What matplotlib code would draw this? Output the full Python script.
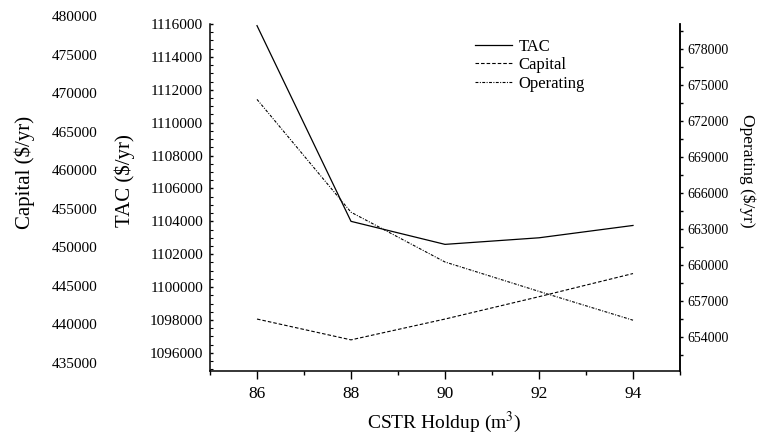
import matplotlib
matplotlib.use("Agg")
import matplotlib.pyplot as plt
from matplotlib.ticker import MultipleLocator, ScalarFormatter, FixedLocator

plt.rcParams['font.family'] = ['Liberation Serif', 'DejaVu Serif']
plt.rcParams['mathtext.fontset'] = 'stix'

# CSTR holdup study: annual costs
holdup = [86, 88, 90, 92, 94]
tac = [1115900, 1104000, 1102600, 1103000, 1103750]
capital = [440700, 438000, 440700, 443600, 446600]
operating = [673800, 664400, 660250, 657800, 655400]

capital_ticks = [435000, 440000, 445000, 450000, 455000, 460000,
                 465000, 470000, 475000, 480000]

W, H = 758, 437
fig = plt.figure(figsize=(W / 100, H / 100), dpi=100)
fig.patch.set_facecolor('white')

def frac(left, top, right, bottom):
    return [left / W, 1 - bottom / H, (right - left) / W, (bottom - top) / H]

# main (TAC) axes
ax = fig.add_axes(frac(210, 24, 680, 371))
ax.set_xlim(85, 95)
ax.set_ylim(1094900, 1116000)
ax.spines['top'].set_visible(False)
for s in ('left', 'bottom', 'right'):
    ax.spines[s].set_linewidth(1.1)
ax.xaxis.set_major_locator(MultipleLocator(2))
ax.xaxis.set_minor_locator(MultipleLocator(1))
ax.yaxis.set_major_locator(MultipleLocator(2000))
ax.yaxis.set_minor_locator(MultipleLocator(500))
ax.yaxis.set_major_formatter(ScalarFormatter(useOffset=False))
ax.ticklabel_format(axis='y', style='plain', useOffset=False)
ax.tick_params(axis='x', which='major', direction='out', length=5.5, width=1.0,
               labelsize=12.5, pad=5.5)
ax.tick_params(axis='x', which='minor', direction='out', length=3, width=1.0)
ax.tick_params(axis='y', which='major', direction='in', length=2.5, width=1.0,
               labelsize=11, pad=5)
ax.tick_params(axis='y', which='minor', direction='in', length=1.8, width=0.8)
l_tac, = ax.plot(holdup, tac, color='black', lw=0.9, label='TAC')
ax.set_xlabel('CSTR Holdup (m$^3$)', fontsize=14)
ax.xaxis.set_label_coords(0.498, -0.112)
ax.set_ylabel('TAC ($/yr)', fontsize=15)
ax.yaxis.set_label_coords(-0.160, 0.550)

# operating cost on the right
ax_op = ax.twinx()
ax_op.set_ylim(651167, 680083)
ax_op.spines['top'].set_visible(False)
ax_op.spines['left'].set_visible(False)
ax_op.spines['bottom'].set_visible(False)
ax_op.spines['right'].set_linewidth(1.1)
ax_op.yaxis.set_major_locator(MultipleLocator(3000))
ax_op.yaxis.set_minor_locator(MultipleLocator(1500))
ax_op.yaxis.set_major_formatter(ScalarFormatter(useOffset=False))
ax_op.tick_params(axis='y', which='major', direction='out', length=2.2, width=1.0,
                  labelsize=10, pad=3)
ax_op.tick_params(axis='y', which='minor', direction='out', length=2.2, width=1.0)
l_op, = ax_op.plot(holdup, operating, color='black', lw=0.8,
                   linestyle=(0, (2.6, 1.3, 0.9, 1.3)), label='Operating')
ax_op.set_ylabel('Operating ($/yr)', fontsize=12.5, rotation=270, va='center')
ax_op.yaxis.set_label_coords(1.143, 0.576)

# capital cost: labels only, on its own scale at the far left
ax_cap = fig.add_axes(frac(210, 16, 680, 363))
ax_cap.patch.set_visible(False)
ax_cap.set_xlim(85, 95)
ax_cap.set_ylim(435000, 480000)
for s in ax_cap.spines.values():
    s.set_visible(False)
ax_cap.xaxis.set_visible(False)
ax_cap.yaxis.set_major_locator(FixedLocator(capital_ticks))
ax_cap.yaxis.set_major_formatter(ScalarFormatter(useOffset=False))
ax_cap.tick_params(axis='y', length=0, labelsize=11, pad=81)
l_cap, = ax_cap.plot(holdup, capital, color='black', lw=0.8,
                     linestyle=(0, (3.2, 1.8)), label='Capital')
ax_cap.set_ylabel('Capital ($/yr)', fontsize=15)
ax_cap.yaxis.set_label_coords(-0.372, 0.550)

leg = ax_cap.legend(handles=[l_tac, l_cap, l_op], loc='upper left',
                    bbox_to_anchor=(0.564, 0.935), frameon=False, fontsize=12,
                    borderpad=0, borderaxespad=0, handlelength=2.2,
                    handletextpad=0.4, labelspacing=0.16)

fig.savefig('out.png', dpi=100, facecolor='white')
